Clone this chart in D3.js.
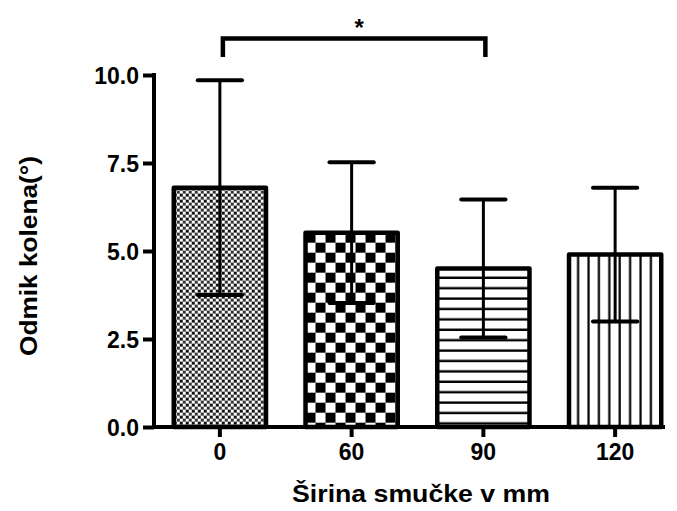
<!DOCTYPE html>
<html>
<head>
<meta charset="utf-8">
<script src="https://cdn.jsdelivr.net/npm/d3@7"></script>
<style>
  html, body { margin: 0; padding: 0; background: #fff; }
  svg text { font-family: "Liberation Sans", Arial, sans-serif; font-weight: bold; fill: #000; }
</style>
</head>
<body>
<svg id="chart" width="677" height="511"></svg>
<script>
// Knee deviation by ski width (mean ± SD)
const categories = ["0", "60", "90", "120"];
const means = [6.8, 5.52, 4.5, 4.9];
const sds = [3.05, 2.0, 1.96, 1.9];
const yTicks = [0, 2.5, 5, 7.5, 10];
const patterns = ["fineChecker", "checker", "hLines", "vLines"];
const xTitle = "Širina smučke v mm";
const yTitle = "Odmik kolena(°)";
const sigPair = ["0", "90"];
const sigLabel = "*";

const svg = d3.select("#chart");
const plotLeft = 154, plotRight = 681, plotTop = 75, plotBottom = 427;

const x = d3.scaleBand().domain(categories).range([plotLeft, plotRight])
  .paddingInner(0.3).paddingOuter(0.15);
const y = d3.scaleLinear().domain([0, 10]).range([plotBottom, plotTop]);

const defs = svg.append("defs");

function makePattern(id, kind, ox, oy) {
  const p = defs.append("pattern").attr("id", id)
    .attr("patternUnits", "userSpaceOnUse").attr("x", ox).attr("y", oy);
  if (kind === "fineChecker") {
    p.attr("width", 6).attr("height", 6);
    p.append("rect").attr("width", 6).attr("height", 6).attr("fill", "#fff");
    p.append("rect").attr("x", 0).attr("y", 0).attr("width", 3).attr("height", 3).attr("fill", "#111");
    p.append("rect").attr("x", 3).attr("y", 3).attr("width", 3).attr("height", 3).attr("fill", "#333");
  } else if (kind === "checker") {
    p.attr("width", 20).attr("height", 20);
    p.append("rect").attr("width", 20).attr("height", 20).attr("fill", "#fff");
    p.append("rect").attr("x", 0).attr("y", 0).attr("width", 10).attr("height", 10).attr("fill", "#000");
    p.append("rect").attr("x", 10).attr("y", 10).attr("width", 10).attr("height", 10).attr("fill", "#000");
  } else if (kind === "hLines") {
    p.attr("width", 10).attr("height", 10.4);
    p.append("rect").attr("width", 10).attr("height", 10.4).attr("fill", "#fff");
    p.append("rect").attr("x", 0).attr("y", 8).attr("width", 10).attr("height", 2.4).attr("fill", "#000");
  } else {
    p.attr("width", 10.4).attr("height", 10);
    p.append("rect").attr("width", 10.4).attr("height", 10).attr("fill", "#fff");
    p.append("rect").attr("x", 8).attr("y", 0).attr("width", 2.2).attr("height", 10).attr("fill", "#000");
  }
}

categories.forEach((c, i) => {
  makePattern("pat" + i, patterns[i], x(c), y(means[i]));
});

// Bars
svg.append("g").selectAll("rect").data(categories).join("rect")
  .attr("x", d => x(d))
  .attr("y", (d, i) => y(means[i]))
  .attr("width", x.bandwidth())
  .attr("height", (d, i) => y(0) - y(means[i]))
  .attr("fill", (d, i) => `url(#pat${i})`)
  .attr("stroke", "#000")
  .attr("stroke-width", 4.5)
  .attr("stroke-linejoin", "round");

// Error bars
const capW = x.bandwidth() * 0.48;
const eb = svg.append("g");
categories.forEach((c, i) => {
  const cx = x(c) + x.bandwidth() / 2;
  const hi = y(means[i] + sds[i]), lo = y(means[i] - sds[i]);
  eb.append("line").attr("x1", cx).attr("x2", cx).attr("y1", hi).attr("y2", lo)
    .attr("stroke", "#000").attr("stroke-width", 3);
  [hi, lo].forEach(v => {
    eb.append("line").attr("x1", cx - capW / 2).attr("x2", cx + capW / 2)
      .attr("y1", v).attr("y2", v).attr("stroke", "#000").attr("stroke-width", 4)
      .attr("stroke-linecap", "round");
  });
});

// Y axis
const yAxis = svg.append("g").attr("transform", `translate(${plotLeft},0)`)
  .call(d3.axisLeft(y).tickValues(yTicks).tickFormat(d3.format(".1f")).tickSize(11).tickSizeOuter(0));
yAxis.select(".domain").attr("stroke-width", 4).attr("d", `M0,${plotTop - 2}V${plotBottom + 2}`);
yAxis.selectAll(".tick line").attr("stroke-width", 4);
yAxis.selectAll(".tick text").attr("font-size", 23).attr("x", -15).attr("dy", "0.36em");

// X axis
const xAxis = svg.append("g").attr("transform", `translate(0,${plotBottom})`)
  .call(d3.axisBottom(x).tickSize(10).tickSizeOuter(0));
xAxis.select(".domain").attr("stroke-width", 4).attr("d", `M${plotLeft - 2},0H665`);
xAxis.selectAll(".tick line").attr("stroke-width", 4);
xAxis.selectAll(".tick text").attr("font-size", 23).attr("y", 17).attr("dy", "0.71em");

// Axis titles
svg.append("text").attr("text-anchor", "middle").attr("font-size", 23)
  .attr("transform", "translate(421,502) scale(1.16,1)")
  .text(xTitle);
svg.append("text").attr("text-anchor", "middle").attr("font-size", 23)
  .attr("transform", "translate(37,256) rotate(-90) scale(1.14,1)")
  .text(yTitle);

// Significance bracket
const bx1 = x(sigPair[0]) + x.bandwidth() / 2 + 3;
const bx2 = x(sigPair[1]) + x.bandwidth() / 2 + 2;
svg.append("path")
  .attr("d", `M${bx1},57V38.5H${bx2}V57`)
  .attr("fill", "none").attr("stroke", "#000").attr("stroke-width", 4.5);
svg.append("text").attr("x", (bx1 + bx2) / 2 + 5).attr("y", 36).attr("text-anchor", "middle")
  .attr("font-size", 24).text(sigLabel);
</script>
</body>
</html>
